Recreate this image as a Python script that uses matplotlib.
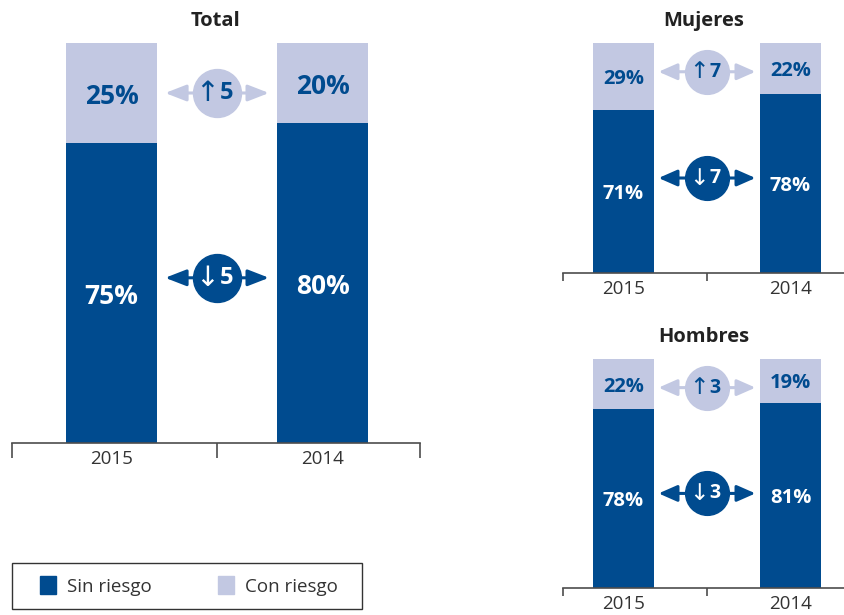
import matplotlib.pyplot as plt
from matplotlib.patches import Patch, Rectangle

plt.rcParams['font.family'] = ['Open Sans', 'DejaVu Sans']

# Datos (porcentaje de personas)
years = ['2015', '2014']
sin_total = [75, 80]
con_total = [25, 20]
sin_mujeres = [71, 78]
con_mujeres = [29, 22]
sin_hombres = [78, 81]
con_hombres = [22, 19]

DARK = '#004b8f'
LIGHT = '#c2c8e2'
W, H = 845, 615

fig = plt.figure(figsize=(W / 100, H / 100), dpi=100)


def px_axes(x0, y0, x1, y1):
    # ejes en coordenadas de pixel de la figura
    return fig.add_axes([x0 / W, 1 - y1 / H, (x1 - x0) / W, (y1 - y0) / H])


def draw_panel(ax, title, sin, con, xlim, bar_w, big):
    x = range(len(years))
    ax.bar(x, sin, width=bar_w, color=DARK, zorder=2)
    ax.bar(x, con, width=bar_w, bottom=sin, color=LIGHT, zorder=2)

    fs_val = 19 if big else 14.5
    for i in x:
        ax.text(i, sin[i] / 2, f'{sin[i]}%', ha='center', va='center_baseline',
                color='white', fontsize=fs_val, fontweight='bold', zorder=3)
        ax.text(i, sin[i] + con[i] / 2, f'{con[i]}%', ha='center', va='center_baseline',
                color=DARK, fontsize=fs_val, fontweight='bold', zorder=3)

    # flechas de cambio entre años
    half = 0.246 if big else 0.29
    ms = 34.5 if big else 31.5
    fs_c = 17 if big else 14
    off = 7 if big else 6
    hl = 0.85 if big else 0.75
    d_con = con[0] - con[1]
    d_sin = sin[1] - sin[0]
    for y, col, txtcol, sym, d in [(87.5, LIGHT, DARK, '↑', d_con),
                                   (41.3, DARK, 'white', '↓', d_sin)]:
        ax.annotate('', xy=(0.5 + half, y), xytext=(0.5 - half, y),
                    arrowprops=dict(arrowstyle=f'<|-|>,head_length={hl},head_width=0.33',
                                    color=col, lw=2.2, shrinkA=0, shrinkB=0,
                                    mutation_scale=15), zorder=3)
        ax.plot(0.5, y, 'o', ms=ms, color=col, mec=col, zorder=4, clip_on=False)
        ax.annotate(sym, xy=(0.5, y), xytext=(-off, 0), textcoords='offset points',
                    ha='center', va='center', color=txtcol, fontsize=fs_c * 1.2,
                    family='DejaVu Sans', zorder=5)
        ax.annotate(str(d), xy=(0.5, y), xytext=(off, 0), textcoords='offset points',
                    ha='center', va='center', color=txtcol, fontsize=fs_c,
                    fontweight='bold', zorder=5)

    ax.set_xlim(*xlim)
    ax.set_ylim(0, 100)
    ax.set_yticks([])
    for s in ['top', 'right', 'left']:
        ax.spines[s].set_visible(False)
    ax.spines['bottom'].set_color('#4d4d4d')
    ax.spines['bottom'].set_linewidth(1.2)
    ax.set_xticks([xlim[0], 0.5, xlim[1]])
    ax.set_xticklabels(['', '', ''])
    ax.tick_params(axis='x', which='major', length=11 if big else 5.5,
                   width=1.2, color='#4d4d4d')
    ax.set_xticks([0, 1], minor=True)
    ax.set_xticklabels(years, minor=True)
    ax.tick_params(axis='x', which='minor', length=0, pad=5,
                   labelsize=13.5, labelcolor='#333333')
    ax.set_title(title, fontsize=14.5, fontweight='bold', color='#222222', pad=12)


ax_total = px_axes(12, 43, 420, 443)
draw_panel(ax_total, 'Total', sin_total, con_total, (-0.472, 1.462), 0.431, True)

ax_muj = px_axes(563, 43, 845, 273)
draw_panel(ax_muj, 'Mujeres', sin_mujeres, con_mujeres, (-0.362, 1.326), 0.365, False)

ax_hom = px_axes(563, 359, 845, 588)
draw_panel(ax_hom, 'Hombres', sin_hombres, con_hombres, (-0.362, 1.326), 0.365, False)

# leyenda con marco propio
fig.patches.append(Rectangle((12 / W, 1 - 609 / H), 350 / W, 46 / H,
                             transform=fig.transFigure, fill=False,
                             edgecolor='#333333', linewidth=1.0))
handles = [Patch(color=DARK, label='Sin riesgo'), Patch(color=LIGHT, label='Con riesgo')]
leg = fig.legend(handles=handles, loc='center left', ncol=2,
                 bbox_to_anchor=(40 / W, 1 - 586 / H),
                 frameon=False, fontsize=13.5, handlelength=0.85, handleheight=1.1,
                 handletextpad=0.6, columnspacing=3.5, borderpad=0, borderaxespad=0)
for t in leg.get_texts():
    t.set_color('#333333')

fig.savefig('out.png', dpi=100)
